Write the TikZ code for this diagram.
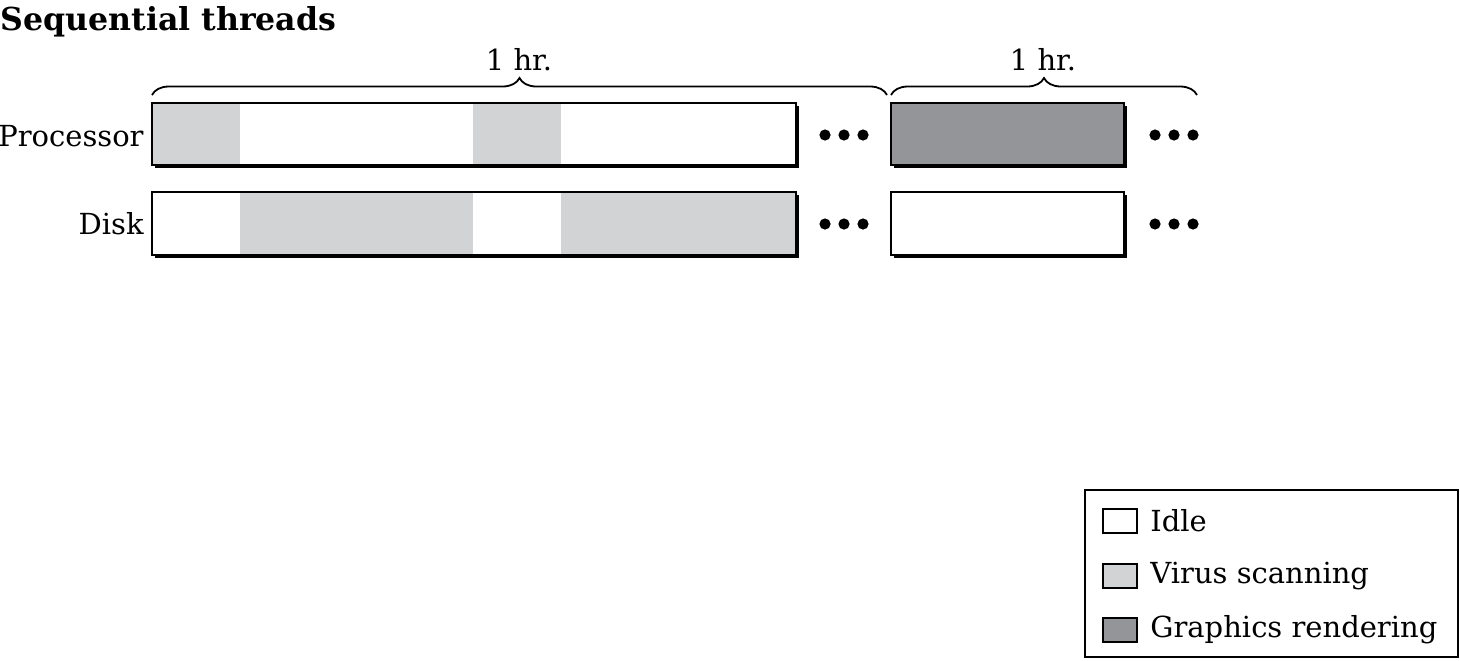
\documentclass[tikz,border=0pt]{standalone}
\usepackage{fontspec}
\setmainfont{DejaVu Serif}
\usetikzlibrary{decorations.pathreplacing}
\definecolor{lightg}{HTML}{D1D3D4}
\definecolor{darkg}{HTML}{939598}
\tikzset{
  barline/.style={line width=1.3pt, draw=black},
  shadowbox/.style={fill=black, draw=none},
  lbl/.style={font=\fontsize{14.5}{16}\selectfont, inner sep=0pt},
  dotmark/.style={fill=black, draw=none},
  bracestyle/.style={decorate, decoration={brace, amplitude=8.5pt}, line width=0.9pt},
  swatch/.style={line width=1.1pt, draw=black},
}
\begin{document}
\begin{tikzpicture}[x=0.5pt, y=-0.5pt]
\useasboundingbox (0,0) rectangle (1460,660);
% title
\node[lbl, font=\bfseries\fontsize{15.8}{17}\selectfont, anchor=west] (title) at (0,22) {Sequential threads};
% braces
\draw[bracestyle] (152,95) -- (887,95);
\draw[bracestyle] (891,95) -- (1197,95);
\node[lbl] (h1) at (519,60) {1 hr.};
\node[lbl] (h2) at (1043,60) {1 hr.};
% row labels
\node[lbl, anchor=east] (proc) at (144,136) {Processor};
\node[lbl, anchor=east] (disk) at (144,224) {Disk};
% shadows
\fill[shadowbox] (155,106) rectangle (799,168);
\fill[shadowbox] (155,195) rectangle (799,258);
\fill[shadowbox] (894,106) rectangle (1127,168);
\fill[shadowbox] (894,195) rectangle (1127,258);
% processor bar
\fill[white] (152,103) rectangle (796,165);
\fill[lightg] (152,103) rectangle (240,165);
\fill[lightg] (473,103) rectangle (561,165);
\draw[barline] (152,103) rectangle (796,165);
% disk bar
\fill[white] (152,192) rectangle (796,255);
\fill[lightg] (240,192) rectangle (473,255);
\fill[lightg] (561,192) rectangle (796,255);
\draw[barline] (152,192) rectangle (796,255);
% second segment
\fill[darkg] (891,103) rectangle (1124,165);
\draw[barline] (891,103) rectangle (1124,165);
\fill[white] (891,192) rectangle (1124,255);
\draw[barline] (891,192) rectangle (1124,255);
% dots
\foreach \x in {825,844,863,1155,1174,1193}{
  \fill[dotmark] (\x,135) circle (2.8pt);
  \fill[dotmark] (\x,224) circle (2.8pt);
}
% legend
\draw[line width=0.9pt] (1085,490) rectangle (1458,657);
\draw[swatch, fill=white] (1103,509) rectangle (1137,533);
\draw[swatch, fill=lightg] (1103,564) rectangle (1137,588);
\draw[swatch, fill=darkg] (1103,618) rectangle (1137,642);
\node[lbl, anchor=west] (lidle) at (1150,521) {Idle};
\node[lbl, anchor=west] (lvirus) at (1150,576) {Virus scanning};
\node[lbl, anchor=west] (lgraph) at (1150,630) {Graphics rendering};
\end{tikzpicture}
\end{document}
